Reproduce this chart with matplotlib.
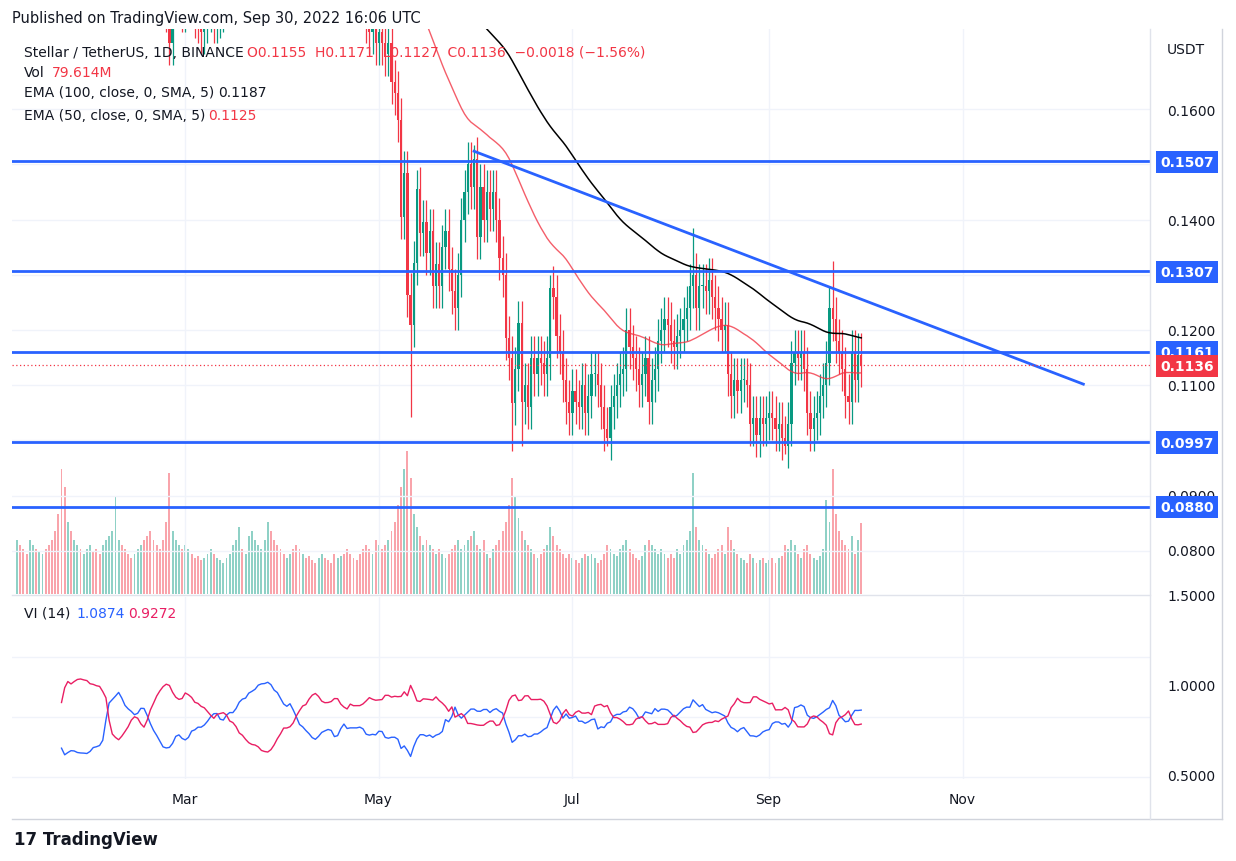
import numpy as np
import pandas as pd
import matplotlib
matplotlib.use("Agg")
import matplotlib.pyplot as plt

# daily closes, 2022-01-07 .. 2022-09-30 (XLM/USDT)
close_jan = [0.265,0.262,0.258,0.255,0.262,0.27,0.265,0.268,0.272,0.27,0.262,0.255,0.25,0.24,0.21,0.19,0.195,0.19,0.195,0.2,0.198,0.2,0.205,0.21,0.205]
close_feb = [0.2,0.198,0.205,0.21,0.215,0.22,0.225,0.228,0.222,0.215,0.21,0.208,0.21,0.212,0.215,0.21,0.2,0.195,0.19,0.188,0.185,0.182,0.178,0.172,0.18,0.182,0.185,0.178]
close_mar = [0.18,0.183,0.18,0.177,0.176,0.174,0.176,0.178,0.18,0.176,0.177,0.178,0.18,0.183,0.185,0.19,0.195,0.2,0.198,0.205,0.21,0.215,0.218,0.22,0.222,0.225,0.228,0.224,0.22,0.218,0.215]
close_apr = [0.212,0.215,0.218,0.214,0.21,0.205,0.206,0.202,0.2,0.198,0.195,0.198,0.2,0.197,0.196,0.195,0.19,0.195,0.198,0.196,0.19,0.188,0.186,0.184,0.182,0.18,0.176,0.174,0.175,0.172]
close_may = [0.174,0.172,0.17,0.172,0.165,0.163,0.158,0.1405,0.1485,0.1264,0.121,0.1322,0.1455,0.1375,0.1395,0.134,0.138,0.128,0.132,0.128,0.135,0.138,0.131,0.127,0.124,0.13,0.14,0.145,0.15,0.146,0.151]
close_jun = [0.1369,0.146,0.14,0.145,0.142,0.145,0.14,0.133,0.13,0.1185,0.115,0.1068,0.113,0.1213,0.107,0.11,0.106,0.115,0.112,0.115,0.114,0.112,0.115,0.1276,0.126,0.119,0.116,0.111,0.107,0.105]
close_jul = [0.109,0.107,0.106,0.11,0.105,0.108,0.112,0.112,0.11,0.106,0.102,0.1005,0.106,0.108,0.11,0.112,0.113,0.12,0.117,0.115,0.113,0.11,0.112,0.115,0.107,0.111,0.113,0.118,0.12,0.122,0.121]
close_aug = [0.118,0.117,0.119,0.12,0.122,0.124,0.128,0.13,0.124,0.128,0.128,0.127,0.129,0.126,0.124,0.122,0.12,0.121,0.112,0.108,0.111,0.109,0.111,0.111,0.11,0.103,0.104,0.101,0.104,0.103,0.104]
close_sep = [0.105,0.104,0.102,0.103,0.1005,0.099,0.103,0.114,0.116,0.115,0.116,0.113,0.105,0.102,0.104,0.105,0.108,0.11,0.114,0.124,0.122,0.118,0.116,0.113,0.108,0.107,0.116,0.111,0.1155,0.1136]

# volume in millions
vol_jan = [60,55,50,45,60,55,50,48,45,50,55,60,70,90,140,120,80,70,60,55,50,45,50,55,48]
vol_feb = [50,45,55,60,65,70,110,60,55,50,45,40,45,50,55,60,65,70,60,55,50,60,80,135,70,60,55,50]
vol_mar = [55,50,45,40,42,38,40,45,50,45,40,38,35,40,45,55,60,75,50,45,65,70,60,55,50,60,80,70,60,55,50]
vol_apr = [45,40,45,50,55,50,45,40,42,38,35,40,45,40,38,35,45,40,42,45,50,45,40,38,45,50,55,50,45,60]
vol_may = [55,50,55,60,70,80,100,120,140,160,130,90,75,65,55,60,55,50,45,50,45,40,45,50,55,60,50,55,60,65,70]
vol_jun = [55,50,60,45,40,50,55,60,70,80,100,130,110,85,70,60,55,50,45,40,45,50,55,75,65,55,50,45,40,45]
vol_jul = [40,38,35,40,45,42,45,40,35,38,45,55,50,45,42,50,55,60,50,45,40,38,42,55,60,55,50,45,50,45,40]
vol_aug = [45,40,50,45,55,60,70,135,75,60,55,50,45,40,45,50,55,45,75,60,50,45,40,38,35,45,40,35,38,40,35]
vol_sep = [38,40,35,40,42,55,50,60,55,45,40,50,55,45,40,38,42,50,105,80,140,90,70,60,55,50,65,45,60,79.6]

# notable wicks
wick_high = {"2022-05-31": 0.1535, "2022-08-08": 0.1385, "2022-09-21": 0.1325, "2022-06-24": 0.130, "2022-05-13": 0.149}
wick_low = {"2022-05-11": 0.1042, "2022-06-12": 0.098, "2022-06-15": 0.099, "2022-07-12": 0.099, "2022-09-06": 0.0975}
WICK = 0.004

levels = [0.1507, 0.1307, 0.1161, 0.0997, 0.0880]
last_price = 0.1136
trend_start = ("2022-05-31", 0.1524)
trend_end = ("2022-12-09", 0.1102)

closes = close_jan + close_feb + close_mar + close_apr + close_may + close_jun + close_jul + close_aug + close_sep
vols = vol_jan + vol_feb + vol_mar + vol_apr + vol_may + vol_jun + vol_jul + vol_aug + vol_sep
dates = pd.date_range("2022-01-07", periods=len(closes), freq="D")
df = pd.DataFrame({"close": closes, "vol": vols}, index=dates)
df["open"] = df["close"].shift(1).fillna(df["close"].iloc[0])
df["high"] = df[["open", "close"]].max(axis=1) + WICK
df["low"] = df[["open", "close"]].min(axis=1) - WICK
for d, v in wick_high.items():
    df.loc[d, "high"] = v
for d, v in wick_low.items():
    df.loc[d, "low"] = v

t0 = dates[0]
x = np.array([(d - t0).days for d in dates])
def xi(s):
    return (pd.Timestamp(s) - t0).days

ema100 = df["close"].ewm(span=100, adjust=False).mean().rolling(5).mean()
ema50 = df["close"].ewm(span=50, adjust=False).mean().rolling(5).mean()

# vortex indicator (14)
prev_c = df["close"].shift(1)
tr = pd.concat([df["high"] - df["low"], (df["high"] - prev_c).abs(), (df["low"] - prev_c).abs()], axis=1).max(axis=1)
vmp = (df["high"] - df["low"].shift(1)).abs()
vmm = (df["low"] - df["high"].shift(1)).abs()
vip = vmp.rolling(14).sum() / tr.rolling(14).sum()
vim = vmm.rolling(14).sum() / tr.rolling(14).sum()

GREEN = "#089981"
RED = "#f23645"
BLUE = "#2962ff"
W, H = 1236, 862
fig = plt.figure(figsize=(W / 100, H / 100), dpi=100)

def rect(l, t, r, b):
    return [l / W, 1 - b / H, (r - l) / W, (b - t) / H]

ax = fig.add_axes(rect(12, 30, 1150, 595))
axv = ax.twinx()
ax.set_zorder(axv.get_zorder() + 1)
ax.patch.set_visible(False)
ax2 = fig.add_axes(rect(12, 598, 1150, 780), sharex=ax)

xmin = -1.6
xmax = 357
ppd = 55 / 0.01
ymin = 0.08 - 43 / ppd
ymax = 0.16 + 80 / ppd

# volume
vcol = [GREEN if c >= o else RED for o, c in zip(df["open"], df["close"])]
axv.bar(x, df["vol"], width=0.6, color=vcol, alpha=0.45)
axv.set_ylim(0, max(vols) * 3.95)
axv.axis("off")

# candles
up = df["close"] >= df["open"]
ccol = np.where(up, GREEN, RED)
ax.vlines(x, df["low"], df["high"], colors=ccol, lw=0.9, zorder=3)
body = (df["close"] - df["open"]).abs().clip(lower=0.0002)
ax.bar(x, body, bottom=df[["open", "close"]].min(axis=1), width=0.7, color=ccol, zorder=4)

ax.plot(x, ema100, color="black", lw=1.1, zorder=5)
ax.plot(x, ema50, color="#f23645", lw=1.0, alpha=0.8, zorder=5)
for lv in levels:
    ax.axhline(lv, color=BLUE, lw=2, zorder=6)
ax.plot([xi(trend_start[0]), xi(trend_end[0])], [trend_start[1], trend_end[1]], color=BLUE, lw=2, zorder=6)
ax.axhline(last_price, color=RED, lw=0.9, ls=(0, (1, 2)), zorder=6)

ax.set_xlim(xmin, xmax)
ax.set_ylim(ymin, ymax)
month_ticks = [xi(s) for s in ["2022-03-01", "2022-05-01", "2022-07-01", "2022-09-01", "2022-11-01"]]
price_ticks = [0.08, 0.09, 0.10, 0.11, 0.12, 0.13, 0.14, 0.15, 0.16]
for a in (ax, ax2):
    for s in a.spines.values():
        s.set_visible(False)
    a.tick_params(length=0, labelleft=False, labelbottom=False)
    a.set_xticks(month_ticks)
    a.grid(True, color="#f0f3fa", lw=1)
ax.set_yticks(price_ticks)
ax.set_yticklabels([])
ax2.set_yticks([0.5, 1.0, 1.5])
ax2.set_yticklabels([])

ax2.plot(x, vip, color=BLUE, lw=1)
ax2.plot(x, vim, color="#e91e63", lw=1)
ax2.set_ylim(0.5 - 3 / 180, 1.5 + 89 / 180)

# frame lines
fig.add_artist(plt.Line2D([12 / W, 1222 / W], [1 - 820 / H] * 2, color="#d1d4dc", lw=1))
fig.add_artist(plt.Line2D([12 / W, 1150 / W], [1 - 596 / H] * 2, color="#e0e3eb", lw=1))
fig.add_artist(plt.Line2D([1150 / W] * 2, [1 - 30 / H, 1 - 820 / H], color="#e0e3eb", lw=1))
fig.add_artist(plt.Line2D([1222 / W] * 2, [1 - 30 / H, 1 - 820 / H], color="#d1d4dc", lw=1))

def ftext(px, py, s, **kw):
    fig.text(px / W, 1 - py / H, s, va="center", **kw)

def price_y(p):
    return 595 - (p - ymin) * ppd

for p in [0.16, 0.14, 0.12, 0.11, 0.09, 0.08]:
    ftext(1167, price_y(p), "%.4f" % p, fontsize=10, color="#131722", zorder=1)
for v, py in [(1.5, 597), (1.0, 687), (0.5, 777)]:
    ftext(1167, py, "%.4f" % v, fontsize=10, color="#131722", zorder=1)
ftext(1167, 50, "USDT", fontsize=10, color="#131722")
for lv in levels:
    fig.text(1187 / W, 1 - price_y(lv) / H, "%.4f" % lv, ha="center", va="center", fontsize=10, color="white",
             fontweight="bold", zorder=5, bbox=dict(boxstyle="square,pad=0.3", fc=BLUE, ec="none"))
fig.text(1187 / W, 1 - price_y(last_price) / H, "%.4f" % last_price, ha="center", va="center", fontsize=10,
         color="white", fontweight="bold", zorder=6, bbox=dict(boxstyle="square,pad=0.3", fc=RED, ec="none"))

for s, xx in zip(["Mar", "May", "Jul", "Sep", "Nov"], month_ticks):
    fig.text((17 + xx * 3.171) / W, 1 - 800 / H, s, ha="center", va="center", fontsize=10, color="#131722")

ftext(12, 18, "Published on TradingView.com, Sep 30, 2022 16:06 UTC", fontsize=10.5, color="#131722")
ftext(24, 53, "Stellar / TetherUS, 1D, BINANCE", fontsize=10, color="#131722")
ftext(247, 53, "O0.1155  H0.1171  L0.1127  C0.1136  \u22120.0018 (\u22121.56%)", fontsize=10, color=RED)
ftext(24, 73, "Vol", fontsize=10, color="#131722")
ftext(52, 73, "79.614M", fontsize=10, color=RED)
ftext(24, 93, "EMA (100, close, 0, SMA, 5)", fontsize=10, color="#131722")
ftext(218, 93, "0.1187", fontsize=10, color="#131722")
ftext(24, 116, "EMA (50, close, 0, SMA, 5)", fontsize=10, color="#131722")
ftext(208, 116, "0.1125", fontsize=10, color=RED)
ftext(24, 614, "VI (14)", fontsize=10, color="#131722")
ftext(76, 614, "1.0874", fontsize=10, color=BLUE)
ftext(128, 614, "0.9272", fontsize=10, color="#e91e63")
ftext(14, 840, "17 TradingView", fontsize=12, color="#131722", fontweight="bold")

fig.savefig("out.png", dpi=100)
